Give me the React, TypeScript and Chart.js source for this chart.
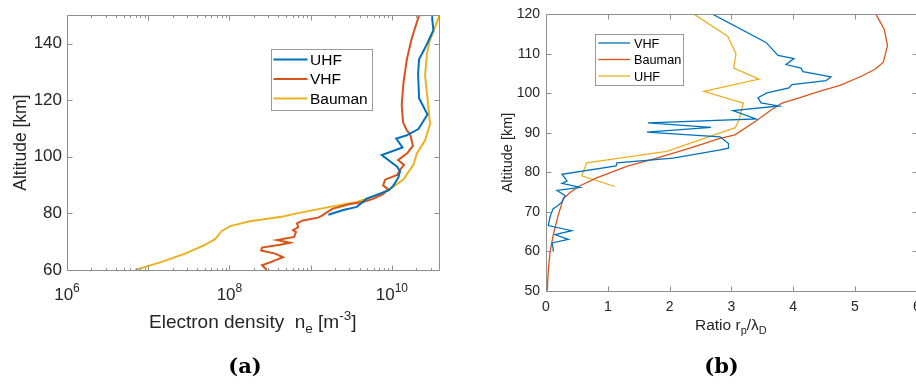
import React, { useEffect, useRef } from "react";
import { Chart, registerables } from "chart.js";

Chart.register(...registerables);

const FONT = '"Liberation Sans", Arial, Helvetica, sans-serif';
const TEXT = "#262626";
const AXIS = "#8f8f8f";
const BLUE = "#0072BD";
const ORANGE = "#D95319";
const YELLOW = "#EDB120";

// ---------- Panel (a): electron density profiles ----------
const altA_UHF = [79.5, 81.2, 82.3, 85.2, 88.1, 89.8, 92.6, 94.9, 96.6, 100.6, 103.3, 106.4, 107.5, 109.8, 114.9, 120.7, 129.3, 134.4, 139.2, 144.7, 150];
const neA_UHF = [1.65e9, 2.53e9, 3.7e9, 4.9e9, 9.1e9, 1.04e10, 1.2e10, 1.26e10, 1.15e10, 7.5e9, 1.35e10, 1.13e10, 1.5e10, 2.12e10, 2.74e10, 2.16e10, 2.1e10, 2.16e10, 2.64e10, 3.24e10, 3.1e10];

const altA_VHF = [60, 61.7, 62.7, 64.5, 65.8, 66.9, 67.9, 68.9, 69.6, 70.6, 71.7, 73.4, 74.1, 75.1, 76.5, 77.5, 78.5, 79.2, 81.6, 83.3, 84.0, 85.1, 86.8, 88.5, 89.9, 91.9, 93.6, 95.4, 97.1, 98.8, 101.2, 103.9, 108.1, 109.1, 112.2, 118.4, 126.3, 134.5, 141.7, 150];
const neA_VHF = [2.88e8, 2.52e8, 3.16e8, 4.57e8, 3.65e8, 2.45e8, 2.52e8, 4.2e8, 5.57e8, 3.85e8, 6.25e8, 6.6e8, 6.07e8, 7.0e8, 6.8e8, 8.05e8, 1.23e9, 1.38e9, 1.84e9, 3.05e9, 4.42e9, 5.86e9, 7.8e9, 8.97e9, 7.8e9, 8.24e9, 1.16e10, 1.26e10, 1.41e10, 1.19e10, 1.54e10, 1.82e10, 1.67e10, 1.54e10, 1.37e10, 1.32e10, 1.39e10, 1.53e10, 1.75e10, 2.16e10];

const altA_Bauman = [60, 62.7, 65.8, 68.9, 70.9, 72.5, 73.7, 75.5, 77.2, 78.9, 80.0, 82.3, 84.0, 86.3, 88.6, 92.0, 97.2, 101.2, 105.8, 111.5, 118.4, 128.7, 136.7, 141.3, 145.8, 150];
const neA_Bauman = [6.9e6, 1.4e7, 2.84e7, 5.0e7, 6.65e7, 7.4e7, 8.0e7, 1.02e8, 1.78e8, 4.57e8, 6.75e8, 1.73e9, 3.7e9, 6.5e9, 9.5e9, 1.39e10, 1.84e10, 2.03e10, 2.56e10, 2.95e10, 2.79e10, 2.56e10, 2.71e10, 2.95e10, 3.4e10, 3.85e10];

const xExpA = [6, 8, 10];
const yTicksA = [60, 80, 100, 120, 140];

// ---------- Panel (b): ratio r_p / lambda_D ----------
const altB_VHF = [59.9, 60.9, 62.1, 63.0, 64.2, 65.2, 66.5, 68.7, 70.7, 71.6, 72.5, 74.1, 75.4, 76.2, 77.2, 77.8, 79.5, 81.6, 82.4, 83.6, 85.6, 86.1, 87.3, 89.0, 90.2, 91.4, 92.5, 93.5, 95.6, 96.8, 97.6, 98.9, 100.1, 101.4, 102.2, 103.2, 104.2, 105.5, 106.4, 107.3, 108.8, 109.6, 112.9, 120];
const ratioB_VHF = [0.118, 0.113, 0.097, 0.361, 0.146, 0.416, 0.037, 0.065, 0.113, 0.194, 0.259, 0.307, 0.178, 0.55, 0.259, 0.34, 0.259, 1.133, 1.149, 2.055, 2.799, 2.953, 2.953, 2.816, 1.634, 2.67, 1.65, 3.398, 3.026, 3.77, 3.479, 3.43, 3.576, 3.932, 3.981, 4.531, 4.612, 4.159, 4.126, 3.883, 4.013, 3.754, 3.56, 2.702];

const altB_Bauman = [50, 55.1, 59.7, 64.2, 69.2, 73.3, 74.9, 76.6, 78.6, 81.5, 83.6, 86.1, 88.6, 89.5, 93.1, 95.6, 97.5, 98.9, 100.5, 102.0, 104.4, 106.1, 107.9, 112.1, 116.2, 120];
const ratioB_Bauman = [0.021, 0.037, 0.065, 0.118, 0.199, 0.28, 0.388, 0.55, 0.82, 1.306, 1.791, 2.33, 2.816, 3.058, 3.409, 3.625, 3.819, 4.11, 4.422, 4.757, 5.113, 5.324, 5.458, 5.526, 5.474, 5.34];

const altB_UHF = [76.4, 79.1, 82.4, 85.3, 88.2, 91.3, 93.5, 97.5, 100.5, 103.6, 106.4, 110.0, 114.5, 120];
const ratioB_UHF = [1.117, 0.578, 0.659, 1.953, 2.492, 3.063, 3.128, 3.193, 2.557, 3.447, 3.037, 3.074, 2.94, 2.4];

const xTicksB = [0, 1, 2, 3, 4, 5, 6];
const yTicksB = [50, 60, 70, 80, 90, 100, 110, 120];

type Seg = { t: string; size: number; dy?: number };

function toXY(xs: number[], ys: number[]) {
  return xs.map((x, i) => ({ x, y: ys[i] }));
}

function richWidth(ctx: CanvasRenderingContext2D, segs: Seg[]) {
  let w = 0;
  for (const s of segs) {
    ctx.font = `${s.size}px ${FONT}`;
    w += ctx.measureText(s.t).width;
  }
  return w;
}

function drawRich(ctx: CanvasRenderingContext2D, segs: Seg[], x: number, y: number, align: "left" | "center") {
  let cx = align === "center" ? x - richWidth(ctx, segs) / 2 : x;
  ctx.textAlign = "left";
  ctx.textBaseline = "alphabetic";
  ctx.fillStyle = TEXT;
  for (const s of segs) {
    ctx.font = `${s.size}px ${FONT}`;
    ctx.fillText(s.t, cx, y + (s.dy || 0));
    cx += ctx.measureText(s.t).width;
  }
}

function framePlugin(cfg: {
  xMajor: number[];
  xMinor?: number[];
  yMajor: number[];
  len: number;
}) {
  return {
    id: "frame",
    afterDatasetsDraw(chart: any) {
      const { ctx, chartArea: a, scales } = chart;
      const xs = scales.x;
      const ys = scales.y;
      ctx.save();
      ctx.strokeStyle = AXIS;
      ctx.lineWidth = 1;
      const L = Math.round(a.left) + 0.5;
      const R = Math.round(a.right) + 0.5;
      const T = Math.round(a.top) + 0.5;
      const B = Math.round(a.bottom) + 0.5;
      ctx.beginPath();
      ctx.moveTo(L, T);
      ctx.lineTo(R, T);
      ctx.lineTo(R, B);
      ctx.lineTo(L, B);
      ctx.closePath();
      const len = cfg.len;
      for (const v of cfg.xMajor) {
        const p = Math.round(xs.getPixelForValue(v)) + 0.5;
        ctx.moveTo(p, B);
        ctx.lineTo(p, B - len);
        ctx.moveTo(p, T);
        ctx.lineTo(p, T + len);
      }
      for (const v of cfg.xMinor || []) {
        const p = Math.round(xs.getPixelForValue(v)) + 0.5;
        ctx.moveTo(p, B);
        ctx.lineTo(p, B - len / 2);
        ctx.moveTo(p, T);
        ctx.lineTo(p, T + len / 2);
      }
      for (const v of cfg.yMajor) {
        const p = Math.round(ys.getPixelForValue(v)) + 0.5;
        ctx.moveTo(L, p);
        ctx.lineTo(L + len, p);
        ctx.moveTo(R, p);
        ctx.lineTo(R - len, p);
      }
      ctx.stroke();
      ctx.restore();
    },
  };
}

function legendPlugin(cfg: {
  box: [number, number, number, number];
  rows: number[];
  lineX: [number, number];
  textX: number;
  size: number;
}) {
  return {
    id: "boxLegend",
    afterDraw(chart: any) {
      const { ctx } = chart;
      const [x0, y0, x1, y1] = cfg.box;
      ctx.save();
      ctx.fillStyle = "#ffffff";
      ctx.fillRect(x0, y0, x1 - x0, y1 - y0);
      ctx.strokeStyle = "#9a9a9a";
      ctx.lineWidth = 1;
      ctx.strokeRect(Math.round(x0) + 0.5, Math.round(y0) + 0.5, Math.round(x1 - x0), Math.round(y1 - y0));
      chart.data.datasets.forEach((ds: any, i: number) => {
        const y = cfg.rows[i];
        ctx.strokeStyle = ds.borderColor;
        ctx.lineWidth = ds.borderWidth;
        ctx.beginPath();
        ctx.moveTo(cfg.lineX[0], y);
        ctx.lineTo(cfg.lineX[1], y);
        ctx.stroke();
        ctx.fillStyle = "#000000";
        ctx.font = `${cfg.size}px ${FONT}`;
        ctx.textAlign = "left";
        ctx.textBaseline = "middle";
        ctx.fillText(ds.label, cfg.textX, y + 1);
      });
      ctx.restore();
    },
  };
}

const minorA: number[] = [];
for (let e = 6; e <= 10; e++) {
  for (let m = 2; m <= 9; m++) {
    const v = m * Math.pow(10, e);
    if (v <= 3.8e10) minorA.push(v);
  }
}

export default function App() {
  const refA = useRef<HTMLCanvasElement | null>(null);
  const refB = useRef<HTMLCanvasElement | null>(null);

  useEffect(() => {
    const common = {
      responsive: false,
      animation: false as const,
      devicePixelRatio: 1,
      events: [] as any[],
    };

    const annotA = {
      id: "annotA",
      afterDraw(chart: any) {
        const { ctx, scales } = chart;
        ctx.save();
        for (const e of xExpA) {
          const px = scales.x.getPixelForValue(Math.pow(10, e));
          const segs: Seg[] = [
            { t: "10", size: 17 },
            { t: String(e), size: 12, dy: -8 },
          ];
          drawRich(ctx, segs, px, 299.5, "center");
        }
        drawRich(
          ctx,
          [
            { t: "Electron density  n", size: 19 },
            { t: "e", size: 13.5, dy: 5 },
            { t: " [m", size: 19 },
            { t: "-3", size: 13.5, dy: -8.5 },
            { t: "]", size: 19 },
          ],
          149,
          328,
          "left"
        );
        ctx.restore();
      },
    };

    const chartA = new Chart(refA.current as HTMLCanvasElement, {
      type: "scatter",
      data: {
        datasets: [
          { label: "UHF", data: toXY(neA_UHF, altA_UHF), borderColor: BLUE, backgroundColor: BLUE, borderWidth: 2, showLine: true, pointRadius: 0, tension: 0 },
          { label: "VHF", data: toXY(neA_VHF, altA_VHF), borderColor: ORANGE, backgroundColor: ORANGE, borderWidth: 2, showLine: true, pointRadius: 0, tension: 0 },
          { label: "Bauman", data: toXY(neA_Bauman, altA_Bauman), borderColor: YELLOW, backgroundColor: YELLOW, borderWidth: 2, showLine: true, pointRadius: 0, tension: 0 },
        ],
      },
      options: {
        ...common,
        layout: { padding: { left: 0, top: 8, right: 21, bottom: 0 } },
        plugins: { legend: { display: false }, tooltip: { enabled: false } },
        scales: {
          x: {
            type: "logarithmic",
            min: 1e6,
            max: 3.8e10,
            grid: { display: false, drawTicks: false },
            border: { display: false },
            ticks: { display: false },
            afterFit: (s: any) => {
              s.height = 119;
            },
          },
          y: {
            type: "linear",
            min: 60,
            max: 150,
            grid: { display: false, drawTicks: false },
            border: { display: false },
            ticks: { color: TEXT, font: { family: FONT, size: 17 }, padding: 5 },
            afterBuildTicks: (s: any) => {
              s.ticks = yTicksA.map((v) => ({ value: v }));
            },
            afterFit: (s: any) => {
              s.width = 67;
            },
            title: { display: true, text: "Altitude [km]", color: TEXT, font: { family: FONT, size: 17.5 }, padding: { top: 11, bottom: 0 } },
          },
        },
      } as any,
      plugins: [
        framePlugin({ xMajor: [1e6, 1e7, 1e8, 1e9, 1e10], xMinor: minorA, yMajor: yTicksA, len: 5 }) as any,
        legendPlugin({ box: [270.5, 48.5, 371.5, 109], rows: [59.5, 79, 98.5], lineX: [273.5, 307.5], textX: 310, size: 15.5 }) as any,
        annotA as any,
      ],
    });

    const annotB = {
      id: "annotB",
      afterDraw(chart: any) {
        const { ctx } = chart;
        ctx.save();
        drawRich(
          ctx,
          [
            { t: "Ratio r", size: 15.5 },
            { t: "p", size: 11, dy: 4 },
            { t: "/\u03bb", size: 15.5 },
            { t: "D", size: 11, dy: 4 },
          ],
          235,
          330,
          "left"
        );
        ctx.restore();
      },
    };

    const chartB = new Chart(refB.current as HTMLCanvasElement, {
      type: "scatter",
      data: {
        datasets: [
          { label: "VHF", data: toXY(ratioB_VHF, altB_VHF), borderColor: BLUE, backgroundColor: BLUE, borderWidth: 1.3, showLine: true, pointRadius: 0, tension: 0 },
          { label: "Bauman", data: toXY(ratioB_Bauman, altB_Bauman), borderColor: ORANGE, backgroundColor: ORANGE, borderWidth: 1.3, showLine: true, pointRadius: 0, tension: 0 },
          { label: "UHF", data: toXY(ratioB_UHF, altB_UHF), borderColor: YELLOW, backgroundColor: YELLOW, borderWidth: 1.3, showLine: true, pointRadius: 0, tension: 0 },
        ],
      },
      options: {
        ...common,
        layout: { padding: { left: 0, top: 8, right: 23.2, bottom: 0 } },
        plugins: { legend: { display: false }, tooltip: { enabled: false } },
        scales: {
          x: {
            type: "linear",
            min: 0,
            max: 6,
            grid: { display: false, drawTicks: false },
            border: { display: false },
            ticks: { color: TEXT, font: { family: FONT, size: 14 }, padding: 8 },
            afterBuildTicks: (s: any) => {
              s.ticks = xTicksB.map((v) => ({ value: v }));
            },
            afterFit: (s: any) => {
              s.height = 98.3;
            },
          },
          y: {
            type: "linear",
            min: 50,
            max: 120,
            grid: { display: false, drawTicks: false },
            border: { display: false },
            ticks: { color: TEXT, font: { family: FONT, size: 14 }, padding: 6 },
            afterBuildTicks: (s: any) => {
              s.ticks = yTicksB.map((v) => ({ value: v }));
            },
            afterFit: (s: any) => {
              s.width = 86;
            },
            title: { display: true, text: "Altitude [km]", color: TEXT, font: { family: FONT, size: 14.5 }, padding: { top: 39, bottom: 0 } },
          },
        },
      } as any,
      plugins: [
        framePlugin({ xMajor: xTicksB, yMajor: yTicksB, len: 5 }) as any,
        legendPlugin({ box: [134.5, 33.5, 222.5, 84.5], rows: [43, 59.5, 76], lineX: [138.3, 170], textX: 174, size: 12.7 }) as any,
        annotB as any,
      ],
    });

    return () => {
      chartA.destroy();
      chartB.destroy();
    };
  }, []);

  const caption: React.CSSProperties = {
    position: "absolute",
    top: 354,
    width: 100,
    textAlign: "center",
    fontFamily: '"DejaVu Serif", serif',
    fontWeight: "bold",
    fontSize: 21,
    lineHeight: "24px",
    color: "#000",
  };

  return (
    <div style={{ position: "fixed", left: 0, top: 0, width: 916, height: 389, overflow: "hidden", background: "#fff" }}>
      <canvas ref={refA} width={460} height={389} style={{ position: "absolute", left: 0, top: 0, width: 460, height: 389 }} />
      <canvas ref={refB} width={480} height={389} style={{ position: "absolute", left: 460, top: 0, width: 480, height: 389 }} />
      <div style={{ ...caption, left: 195 }}>(a)</div>
      <div style={{ ...caption, left: 671.5 }}>(b)</div>
    </div>
  );
}
